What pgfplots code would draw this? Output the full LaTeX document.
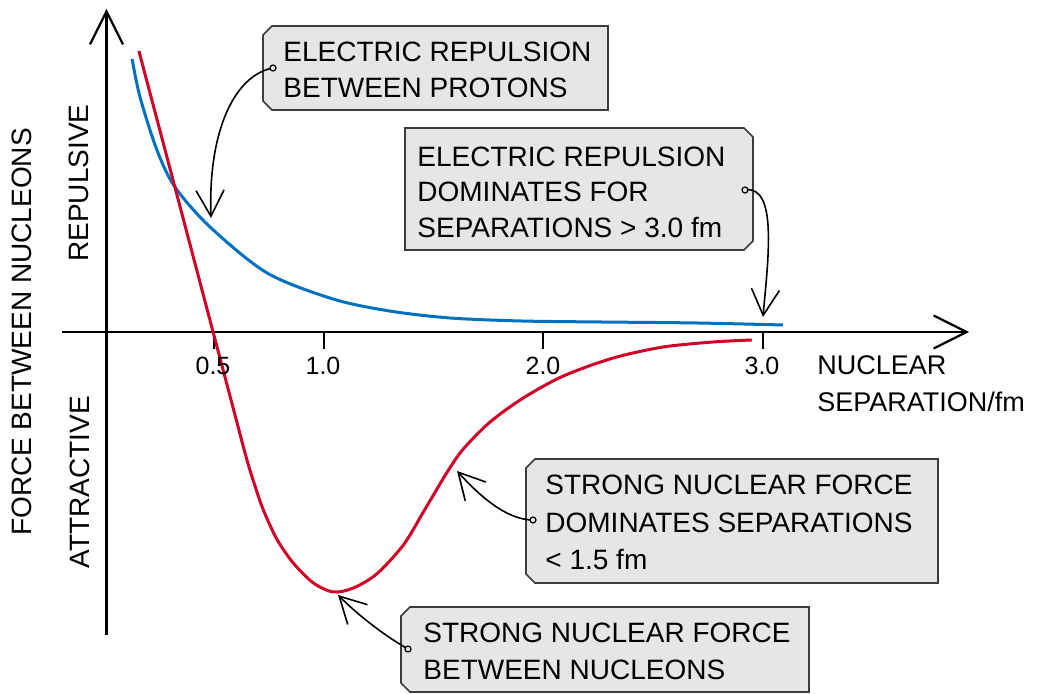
\documentclass[border=0pt]{standalone}
\usepackage{fontspec}
\setmainfont{Liberation Sans}
\usepackage{pgfplots}
\pgfplotsset{compat=1.18}
\usetikzlibrary{arrows.meta}
\definecolor{eblue}{RGB}{0,112,192}
\definecolor{sred}{RGB}{208,2,40}
\definecolor{boxfill}{RGB}{230,230,230}
\definecolor{boxedge}{RGB}{60,60,60}
\begin{document}
\begin{tikzpicture}
\begin{axis}[scale only axis, width=528pt, height=347pt,
  xmin=-0.4738, xmax=4.3371, ymin=-362, ymax=332,
  axis lines=none, clip=false]
% axes
\draw[line width=1.1pt, -{Straight Barb[length=16.5pt,width=16.5pt]}] (axis cs:-0.191,0) -- (axis cs:3.941,0);
\draw[line width=1.1pt, -{Straight Barb[length=16.5pt,width=16.5pt]}] (axis cs:0.0114,-303) -- (axis cs:0.0114,323);
\draw[line width=1pt] (axis cs:0.5,0) -- (axis cs:0.5,-17);
\draw[line width=1pt] (axis cs:1,0) -- (axis cs:1,-17);
\draw[line width=1pt] (axis cs:2,0) -- (axis cs:2,-17);
\draw[line width=1pt] (axis cs:3,0) -- (axis cs:3,-17);
% electric repulsion
\addplot[eblue, line width=1.5pt, smooth] coordinates {
(0.128,273) (0.164,235) (0.241,182) (0.323,145) (0.483,105) (0.743,59)
(1.043,33) (1.3,21) (1.576,14) (1.9,11) (2.26,10) (2.7,9) (3.093,7)};
% strong nuclear force
\addplot[sred, line width=1.5pt, smooth] coordinates {
(0.159,281) (0.33,139) (0.497,0) (0.58,-69) (0.65,-127) (0.688,-154)
(0.726,-178) (0.787,-207) (0.862,-231) (0.954,-251) (1.045,-260)
(1.136,-256) (1.242,-242) (1.364,-213) (1.455,-180)
(1.561,-141) (1.637,-117) (1.759,-90) (1.91,-66) (2.093,-44) (2.32,-26)
(2.548,-15) (2.776,-10) (2.951,-8)};
\end{axis}
\begin{scope}[shift={(current axis.north west)}, x=0.5pt, y=-0.5pt]
% tick labels
\node[anchor=base, font=\fontsize{12.5}{15}\selectfont] at (213,375) {0.5};
\node[anchor=base, font=\fontsize{12.5}{15}\selectfont] at (323,375) {1.0};
\node[anchor=base, font=\fontsize{12.5}{15}\selectfont] at (543,375) {2.0};
\node[anchor=base, font=\fontsize{12.5}{15}\selectfont] at (762,375) {3.0};
% axis labels
\node[anchor=base west, font=\fontsize{13.5}{16}\selectfont, inner sep=0pt] at (817,375) {NUCLEAR};
\node[anchor=base west, font=\fontsize{13.5}{16}\selectfont, inner sep=0pt] at (817,412) {SEPARATION/fm};
\node[rotate=90, font=\fontsize{14}{17}\selectfont, inner sep=0pt] at (22,332) {FORCE BETWEEN NUCLEONS};
\node[rotate=90, font=\fontsize{14}{17}\selectfont, inner sep=0pt] at (79,183) {REPULSIVE};
\node[rotate=90, font=\fontsize{14}{17}\selectfont, inner sep=0pt] at (80,482) {ATTRACTIVE};
% boxes
\filldraw[fill=boxfill, draw=boxedge, line width=0.8pt] (272,26) -- (608,26) -- (608,110) -- (272,110) -- (263,101) -- (263,35) -- cycle;
\filldraw[fill=boxfill, draw=boxedge, line width=0.8pt] (405,128) -- (744,128) -- (753,137) -- (753,241) -- (744,250) -- (405,250) -- cycle;
\filldraw[fill=boxfill, draw=boxedge, line width=0.8pt] (535,459) -- (938,459) -- (938,583) -- (535,583) -- (526,574) -- (526,468) -- cycle;
\filldraw[fill=boxfill, draw=boxedge, line width=0.8pt] (410,607) -- (809,607) -- (809,692) -- (410,692) -- (401,683) -- (401,616) -- cycle;
\begin{scope}[every node/.style={anchor=base west, inner sep=0pt, font=\fontsize{14}{17}\selectfont}]
\node at (283,62) {ELECTRIC REPULSION};
\node at (283,98) {BETWEEN PROTONS};
\node at (417,167) {ELECTRIC REPULSION};
\node at (417,202) {DOMINATES FOR};
\node at (417,238) {SEPARATIONS > 3.0 fm};
\node at (545,495) {STRONG NUCLEAR FORCE};
\node at (545,533) {DOMINATES SEPARATIONS};
\node at (545,570) {< 1.5 fm};
\node at (423,643) {STRONG NUCLEAR FORCE};
\node at (423,680) {BETWEEN NUCLEONS};
\end{scope}
% annotation arrows
\begin{scope}[line width=0.8pt, -{Straight Barb[length=13pt,width=14pt]}]
\draw (273,68) .. controls (235,75) and (208,130) .. (211,218);
\draw (745,190) .. controls (778,185) and (768,260) .. (763,317);
\draw (533,520) .. controls (505,520) and (477,493) .. (457,471);
\draw (408,649) .. controls (385,636) and (359,616) .. (338,595);
\end{scope}
\draw[line width=0.6pt, fill=boxfill] (273,68) circle (3);
\draw[line width=0.6pt, fill=boxfill] (745,190) circle (3);
\draw[line width=0.6pt, fill=boxfill] (533,520) circle (3);
\draw[line width=0.6pt, fill=boxfill] (408,649) circle (3);
\end{scope}
\pgfresetboundingbox
\path (current axis.south west) rectangle (current axis.north east);
\end{tikzpicture}
\end{document}
